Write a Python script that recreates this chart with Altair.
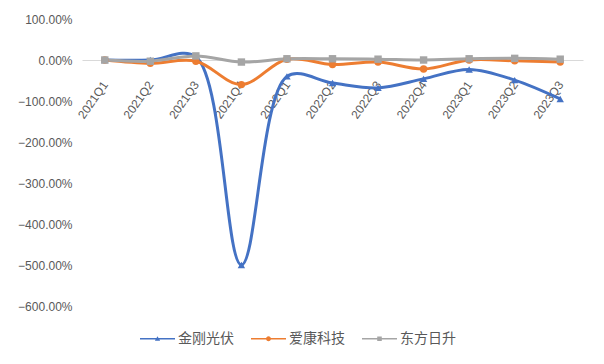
import altair as alt
import pandas as pd

quarters = ["2021Q1", "2021Q2", "2021Q3", "2021Q4", "2022Q1", "2022Q2",
            "2022Q3", "2022Q4", "2023Q1", "2023Q2", "2023Q3"]
series_names = ["金刚光伏", "爱康科技", "东方日升"]
jingang = [0.0, 0.0, 0.08, -5.0, -0.40, -0.56, -0.68, -0.46, -0.23, -0.49, -0.95]
aikang = [0.0, -0.08, -0.03, -0.60, 0.02, -0.11, -0.05, -0.22, 0.0, -0.02, -0.05]
dongfang = [0.0, -0.03, 0.10, -0.05, 0.03, 0.03, 0.02, 0.0, 0.03, 0.04, 0.02]
colors = ["#4472C4", "#ED7D31", "#A5A5A5"]
marker_shapes = ["triangle-up", "circle", "square"]

rows = []
for name, vals in zip(series_names, [jingang, aikang, dongfang]):
    for q, v in zip(quarters, vals):
        rows.append({"quarter": q, "value": v, "series": name})
df = pd.DataFrame(rows)

# legend symbols: a line with a marker in the middle
bar = "M-1,-0.045H1V0.045H-1Z"
legend_paths = [
    bar + " M-0.15,0.12L0,-0.15L0.15,0.12Z",
    bar + " M-0.14,0A0.14,0.14,0,1,1,0.14,0A0.14,0.14,0,1,1,-0.14,0Z",
    bar + " M-0.13,-0.13H0.13V0.13H-0.13Z",
]

x_enc = alt.X("quarter:O", sort=quarters,
              scale=alt.Scale(type="point", padding=0.5),
              axis=alt.Axis(title=None, labelAngle=-55, labelAlign="right",
                            labelBaseline="middle", labelPadding=22,
                            ticks=False, domainColor="#D9D9D9", domainWidth=1,
                            labelColor="#595959", labelFontSize=12,
                            labelFont="Liberation Sans", offset=-246,
                            zindex=0))
y_enc = alt.Y("value:Q",
              scale=alt.Scale(domain=[-6, 1], nice=False, zero=False),
              axis=alt.Axis(title=None, format=".2%", values=[1, 0, -1, -2, -3, -4, -5, -6],
                            grid=False, domain=False, ticks=False,
                            labelColor="#595959", labelFontSize=12,
                            labelFont="Liberation Sans", labelPadding=10))
color_scale = alt.Scale(domain=series_names, range=colors)

base = alt.Chart(df)

leg = alt.Legend(title=None, orient="none", direction="horizontal",
                 legendX=58, legendY=302,
                 labelFont="Noto Sans CJK SC", labelFontSize=14,
                 labelColor="#595959", symbolSize=1225,
                 symbolOpacity=1, symbolStrokeWidth=0, columnPadding=17,
                 labelOffset=3)

legend_layer = base.mark_point(filled=True, opacity=0, size=1).encode(
    x=x_enc, y=y_enc,
    color=alt.Color("series:N", scale=color_scale, legend=leg),
    shape=alt.Shape("series:N", scale=alt.Scale(domain=series_names, range=legend_paths),
                    legend=leg),
)

lines = base.mark_line(strokeWidth=3, interpolate="catmull-rom").encode(
    x=x_enc, y=y_enc,
    color=alt.Color("series:N", scale=color_scale, legend=None),
    detail="series:N",
)

point_layers = []
for name, shp in zip(series_names, marker_shapes):
    point_layers.append(
        base.transform_filter(alt.datum.series == name)
        .mark_point(filled=True, opacity=1, size=55, shape=shp)
        .encode(x=x_enc, y=y_enc,
                color=alt.Color("series:N", scale=color_scale, legend=None))
    )

chart = alt.layer(legend_layer, lines, *point_layers).properties(
    width=501, height=287,
    autosize=alt.AutoSizeParams(type="none"),
    padding={"left": 82, "top": 19, "right": 21, "bottom": 58},
    background="white",
).configure_view(stroke=None)

chart.save("out.html", embed_options={"renderer": "svg", "actions": False})
